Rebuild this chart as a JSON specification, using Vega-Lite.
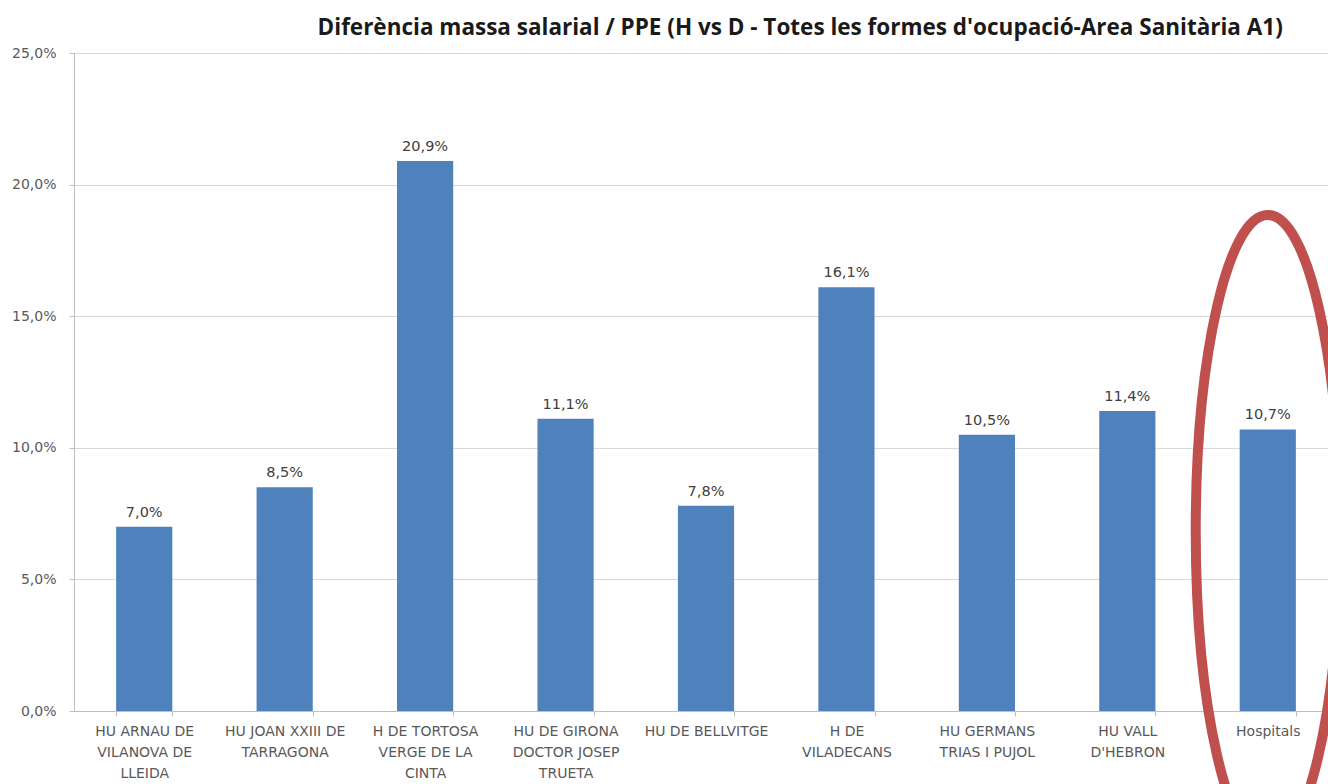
{
  "$schema": "https://vega.github.io/schema/vega-lite/v6.json",
  "autosize": {"type": "none"},
  "padding": {"left": 74, "top": 53, "right": 0, "bottom": 73},
  "width": 1264,
  "height": 658,
  "background": "white",
  "title": {
    "text": "Diferència massa salarial / PPE (H vs D - Totes les formes d'ocupació-Area Sanitària A1)",
    "anchor": "end",
    "dx": -77,
    "offset": 7,
    "font": "Open Sans",
    "fontSize": 22.5,
    "fontWeight": "bold",
    "color": "#1a1a1a"
  },
  "datasets": {
    "bars": [
      {"hospital": "HU ARNAU DE|VILANOVA DE|LLEIDA", "pct": 0.070},
      {"hospital": "HU JOAN XXIII DE|TARRAGONA", "pct": 0.085},
      {"hospital": "H DE TORTOSA|VERGE DE LA|CINTA", "pct": 0.209},
      {"hospital": "HU DE GIRONA|DOCTOR JOSEP|TRUETA", "pct": 0.111},
      {"hospital": "HU DE BELLVITGE", "pct": 0.078},
      {"hospital": "H DE|VILADECANS", "pct": 0.161},
      {"hospital": "HU GERMANS|TRIAS I PUJOL", "pct": 0.105},
      {"hospital": "HU VALL|D'HEBRON", "pct": 0.114},
      {"hospital": "Hospitals", "pct": 0.107}
    ],
    "highlight": [
      {"hospital": "Hospitals", "pct": 0.0684}
    ]
  },
  "encoding": {
    "x": {
      "field": "hospital",
      "type": "nominal",
      "sort": null,
      "scale": {"paddingInner": 0.6, "paddingOuter": 0.3},
      "axis": {
        "title": null,
        "labelAngle": 0,
        "labelExpr": "split(datum.label, '|')",
        "labelFont": "DejaVu Sans",
        "labelFontSize": 14,
        "labelColor": "#595959",
        "labelLineHeight": 21,
        "labelPadding": 8,
        "labelBaseline": "top",
        "labelLimit": 200,
        "tickBand": "extent",
        "tickSize": 5,
        "tickColor": "#bfbfbf",
        "domainColor": "#bfbfbf",
        "grid": false
      }
    }
  },
  "layer": [
    {
      "data": {"name": "bars"},
      "mark": {"type": "bar", "color": "#4F81BD"},
      "encoding": {
        "y": {
          "field": "pct",
          "type": "quantitative",
          "scale": {"domain": [0, 0.25], "nice": false},
          "axis": {
            "title": null,
            "values": [0, 0.05, 0.1, 0.15, 0.2, 0.25],
            "format": ".1%",
            "labelFont": "DejaVu Sans",
            "labelFontSize": 14,
            "labelColor": "#595959",
            "labelPadding": 13,
            "tickSize": 5,
            "tickColor": "#bfbfbf",
            "domainColor": "#bfbfbf",
            "gridColor": "#d9d9d9",
            "gridWidth": 1.2
          }
        }
      }
    },
    {
      "data": {"name": "bars"},
      "mark": {"type": "text", "baseline": "bottom", "dy": -7, "font": "DejaVu Sans", "fontSize": 14.5, "color": "#404040"},
      "encoding": {
        "y": {"field": "pct", "type": "quantitative"},
        "text": {"field": "pct", "type": "quantitative", "format": ".1%"}
      }
    },
    {
      "data": {"name": "highlight"},
      "mark": {
        "type": "point",
        "shape": "M0,-1A0.228,1,0,1,1,0,1A0.228,1,0,1,1,0,-1Z",
        "size": 399424,
        "filled": false,
        "stroke": "#C0504D",
        "strokeWidth": 10,
        "opacity": 1
      },
      "encoding": {
        "y": {"field": "pct", "type": "quantitative"}
      }
    }
  ],
  "config": {
    "view": {"stroke": null},
    "locale": {
      "number": {"decimal": ",", "thousands": ".", "grouping": [3], "currency": ["", " €"]}
    }
  }
}
